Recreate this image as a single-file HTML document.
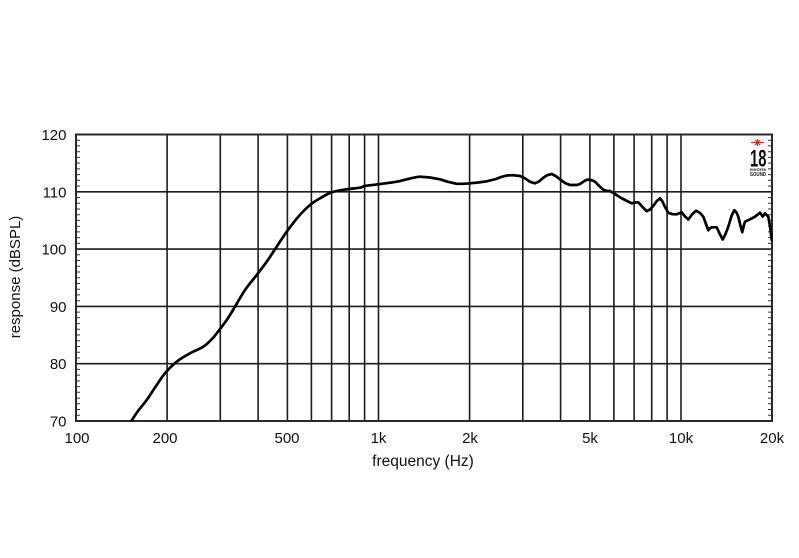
<!DOCTYPE html>
<html><head><meta charset="utf-8"><style>
html,body{margin:0;padding:0;background:#fff;}
svg{display:block;}
text{font-family:"Liberation Sans",Arial,sans-serif;fill:#111;}
</style></head><body>
<svg width="799" height="558" viewBox="0 0 799 558" xmlns="http://www.w3.org/2000/svg">
<rect width="799" height="558" fill="#fff"/>
<g stroke="#1c1c1c" stroke-width="1.6" fill="none">
<line x1="167.1" y1="134.5" x2="167.1" y2="421"/>
<line x1="220.3" y1="134.5" x2="220.3" y2="421"/>
<line x1="258.1" y1="134.5" x2="258.1" y2="421"/>
<line x1="287.4" y1="134.5" x2="287.4" y2="421"/>
<line x1="311.4" y1="134.5" x2="311.4" y2="421"/>
<line x1="331.6" y1="134.5" x2="331.6" y2="421"/>
<line x1="349.2" y1="134.5" x2="349.2" y2="421"/>
<line x1="364.6" y1="134.5" x2="364.6" y2="421"/>
<line x1="378.5" y1="134.5" x2="378.5" y2="421"/>
<line x1="469.6" y1="134.5" x2="469.6" y2="421"/>
<line x1="522.8" y1="134.5" x2="522.8" y2="421"/>
<line x1="560.6" y1="134.5" x2="560.6" y2="421"/>
<line x1="589.9" y1="134.5" x2="589.9" y2="421"/>
<line x1="613.9" y1="134.5" x2="613.9" y2="421"/>
<line x1="634.1" y1="134.5" x2="634.1" y2="421"/>
<line x1="651.7" y1="134.5" x2="651.7" y2="421"/>
<line x1="667.1" y1="134.5" x2="667.1" y2="421"/>
<line x1="681" y1="134.5" x2="681" y2="421"/>
<line x1="76" y1="191.8" x2="772" y2="191.8"/>
<line x1="76" y1="249.1" x2="772" y2="249.1"/>
<line x1="76" y1="306.4" x2="772" y2="306.4"/>
<line x1="76" y1="363.7" x2="772" y2="363.7"/>
</g>
<g stroke="#333" stroke-width="1">
<path d="M76 140.2h4M76 145.9h4M76 151.7h4M76 157.4h4M76 163.1h4M76 168.9h4M76 174.6h4M76 180.3h4M76 186.1h4
M76 197.5h4M76 203.2h4M76 209h4M76 214.7h4M76 220.4h4M76 226.2h4M76 231.9h4M76 237.6h4M76 243.4h4
M76 254.8h4M76 260.5h4M76 266.3h4M76 272h4M76 277.7h4M76 283.5h4M76 289.2h4M76 294.9h4M76 300.7h4
M76 312.1h4M76 317.8h4M76 323.6h4M76 329.3h4M76 335h4M76 340.8h4M76 346.5h4M76 352.2h4M76 358h4
M76 369.4h4M76 375.1h4M76 380.9h4M76 386.6h4M76 392.3h4M76 398.1h4M76 403.8h4M76 409.5h4M76 415.3h4"/>
<path d="M772 140.2h-4M772 145.9h-4M772 151.7h-4M772 157.4h-4M772 163.1h-4M772 168.9h-4M772 174.6h-4M772 180.3h-4M772 186.1h-4
M772 197.5h-4M772 203.2h-4M772 209h-4M772 214.7h-4M772 220.4h-4M772 226.2h-4M772 231.9h-4M772 237.6h-4M772 243.4h-4
M772 254.8h-4M772 260.5h-4M772 266.3h-4M772 272h-4M772 277.7h-4M772 283.5h-4M772 289.2h-4M772 294.9h-4M772 300.7h-4
M772 312.1h-4M772 317.8h-4M772 323.6h-4M772 329.3h-4M772 335h-4M772 340.8h-4M772 346.5h-4M772 352.2h-4M772 358h-4
M772 369.4h-4M772 375.1h-4M772 380.9h-4M772 386.6h-4M772 392.3h-4M772 398.1h-4M772 403.8h-4M772 409.5h-4M772 415.3h-4"/>
</g>
<rect x="76" y="134.5" width="696" height="286.5" fill="none" stroke="#2a2a2a" stroke-width="2"/>
<defs><clipPath id="c"><rect x="76" y="134.5" width="696.5" height="286.5"/></clipPath></defs>
<path clip-path="url(#c)" fill="none" stroke="#000" stroke-width="2.7" stroke-linejoin="round" stroke-linecap="round"
d="M130,423
C131.33,421 135.22,414.83 138,411
C140.78,407.17 143.7,404.17 146.7,400
C149.7,395.83 152.95,390.45 156,386
C159.05,381.55 161.55,377.35 165,373.3
C168.45,369.25 172.53,365.03 176.7,361.7
C180.87,358.37 185.57,355.8 190,353.3
C194.43,350.8 199.63,349.08 203.3,346.7
C206.97,344.32 209.77,341.23 212,339
C214.23,336.77 214.25,336.47 216.7,333.3
C219.15,330.13 223.65,324.43 226.7,320
C229.75,315.57 231.95,311.7 235,306.7
C238.05,301.7 241.38,295.28 245,290
C248.62,284.72 253.08,279.72 256.7,275
C260.32,270.28 263.37,266.42 266.7,261.7
C270.03,256.98 273.37,251.7 276.7,246.7
C280.03,241.7 283.1,236.7 286.7,231.7
C290.3,226.7 294.42,221.15 298.3,216.7
C302.18,212.25 306.38,208.07 310,205
C313.62,201.93 316.38,200.42 320,198.3
C323.62,196.18 327.25,193.8 331.7,192.3
C336.15,190.8 341.98,190.07 346.7,189.3
C351.42,188.53 356.95,188.25 360,187.7
C363.05,187.15 361.95,186.57 365,186
C368.05,185.43 373.02,185.02 378.3,184.3
C383.58,183.58 391.75,182.58 396.7,181.7
C401.65,180.82 404.12,179.83 408,179
C411.88,178.17 416.33,176.95 420,176.7
L430,177.5 L440,179.3 L448,181.8 L456.7,183.8 L463,183.8 L470,183.3 L478,182.5 L486.7,181.3 L496,179 L501,177 L506.7,175.5 L513,175.2 L520,176 L525,178.3 L530,181.8 L535,183.3 L539,181.5 L543,178 L547,175.3 L551.7,174 L556,176.2 L560,179.3 L565,183 L570,185 L576.7,185 L580,184 L583,182 L586,180 L589,179.6 L592,180.3 L595,181.7 L599,185.8 L603.3,189.8 L606.5,190.8 L610,191 L615,194 L620,197.3 L626,200.5 L631.7,203.3 L635,202.5 L638.3,202.3 L642.5,207 L646.7,211.2 L650,209.5 L653.3,206 L656.8,201 L660,198.3 L662.5,201.5 L664.5,206 L668.3,212.8 L672.5,214.2 L676.7,214.3 L681.7,212.3 L685,216.5 L688.3,219.5 L692,214.5 L696,210.7 L700,213 L703.3,216.7 L706,224 L708.3,230.3 L710,228.2 L711.7,227.3 L716.7,227.3 L719.8,234 L722.7,239.5 L725.5,234 L728.3,226.7 L731.5,216 L734.3,210.2 L736.5,212.5 L738.3,216.7 L740.3,225 L742.3,232.2 L743.7,226 L745,221.7 L750,219.3 L755,216.7 L760,212.7 L762.7,216.5 L765,213.3 L768.3,216.7 L770,226 L771.7,240"/>
<g stroke="#e52222" stroke-width="1.2">
<line x1="751" y1="142.5" x2="764" y2="142.5"/>
<line x1="757.5" y1="139" x2="757.5" y2="146"/>
<line x1="755" y1="140" x2="760" y2="145"/>
<line x1="760" y1="140" x2="755" y2="145"/>
</g>
<text x="750" y="166.5" font-size="24" font-weight="bold" textLength="16.5" lengthAdjust="spacingAndGlyphs" fill="#000">18</text>
<text x="750" y="171" font-size="4" font-weight="bold" textLength="16" lengthAdjust="spacingAndGlyphs" fill="#333">EIGHTEEN</text>
<text x="750" y="176" font-size="5" font-weight="bold" textLength="16" lengthAdjust="spacingAndGlyphs" fill="#111">SOUND</text>
<g font-size="15" text-anchor="end">
<text x="66.5" y="140">120</text>
<text x="66.5" y="197.3">110</text>
<text x="66.5" y="254.6">100</text>
<text x="66.5" y="311.9">90</text>
<text x="66.5" y="369.2">80</text>
<text x="66.5" y="426.5">70</text>
</g>
<g font-size="15" text-anchor="middle">
<text x="77" y="443">100</text>
<text x="165" y="443">200</text>
<text x="287" y="443">500</text>
<text x="378.5" y="443">1k</text>
<text x="470" y="443">2k</text>
<text x="590" y="443">5k</text>
<text x="681" y="443">10k</text>
<text x="772" y="443">20k</text>
</g>
<text x="423" y="466" font-size="15.5" text-anchor="middle">frequency (Hz)</text>
<text transform="translate(20,277) rotate(-90)" font-size="15" text-anchor="middle">response (dBSPL)</text>
</svg>
</body></html>
